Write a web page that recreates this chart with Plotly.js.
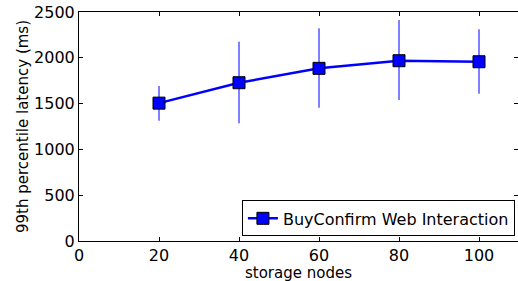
<!DOCTYPE html>
<html><head><meta charset="utf-8">
<script src="https://cdn.plot.ly/plotly-3.0.1.min.js"></script>
<style>body{margin:0;background:#fff}#c{width:518px;height:281px}</style>
</head><body><div id="c"></div>
<script>
const nodes = [20, 40, 60, 80, 100];
const latency = [1505, 1728, 1885, 1968, 1957];
const errPlus = [187, 448, 437, 444, 354];
const errMinus = [192, 443, 430, 429, 349];
const seriesName = 'BuyConfirm Web Interaction';

const trace = {
  x: nodes, y: latency, name: seriesName, type: 'scatter', mode: 'lines+markers',
  line: {color: '#0000ff', width: 2.5},
  marker: {symbol: 'square', size: 12, color: '#0000ff', line: {color: '#000', width: 1}},
  error_y: {type: 'data', symmetric: false, array: errPlus, arrayminus: errMinus,
            color: '#0000ff', thickness: 1, width: 0}
};
const tickFont = {family: 'DejaVu Sans', size: 16, color: '#000'};
const titleFont = {family: 'DejaVu Sans', size: 15, color: '#000'};
const ax = {showgrid: false, zeroline: false, showline: true, linecolor: '#000', linewidth: 1,
  mirror: 'allticks', ticks: 'inside', ticklen: 4, tickcolor: '#000', tickfont: tickFont};
const layout = {
  width: 518, height: 281, margin: {l: 79, r: 0, t: 12, b: 40},
  paper_bgcolor: '#fff', plot_bgcolor: '#fff', font: tickFont,
  xaxis: Object.assign({}, ax, {range: [0, 109.75], tickvals: [0,20,40,60,80,100],
    automargin: false, title: {text: 'storage nodes', font: titleFont}}),
  yaxis: Object.assign({}, ax, {range: [0, 2500], tickvals: [0,500,1000,1500,2000,2500],
    automargin: false, title: {text: '99th percentile latency (ms)', font: titleFont}}),
  legend: {x: 0.993, y: 0.02, xanchor: 'right', yanchor: 'bottom', bordercolor: '#000',
    borderwidth: 1, bgcolor: '#fff', font: {family: 'DejaVu Sans', size: 16, color: '#000'},
    itemwidth: 30, tracegroupgap: 0},
  showlegend: true
};
Plotly.newPlot('c', [trace], layout, {displayModeBar: false, staticPlot: true}).then(function(gd){
  const t = gd.querySelector('.g-xtitle text');
  if (t) {
    const y0 = parseFloat(t.getAttribute('y'));
    if (!isNaN(y0)) t.setAttribute('y', String(y0 + 1));
  }
});
</script></body></html>
